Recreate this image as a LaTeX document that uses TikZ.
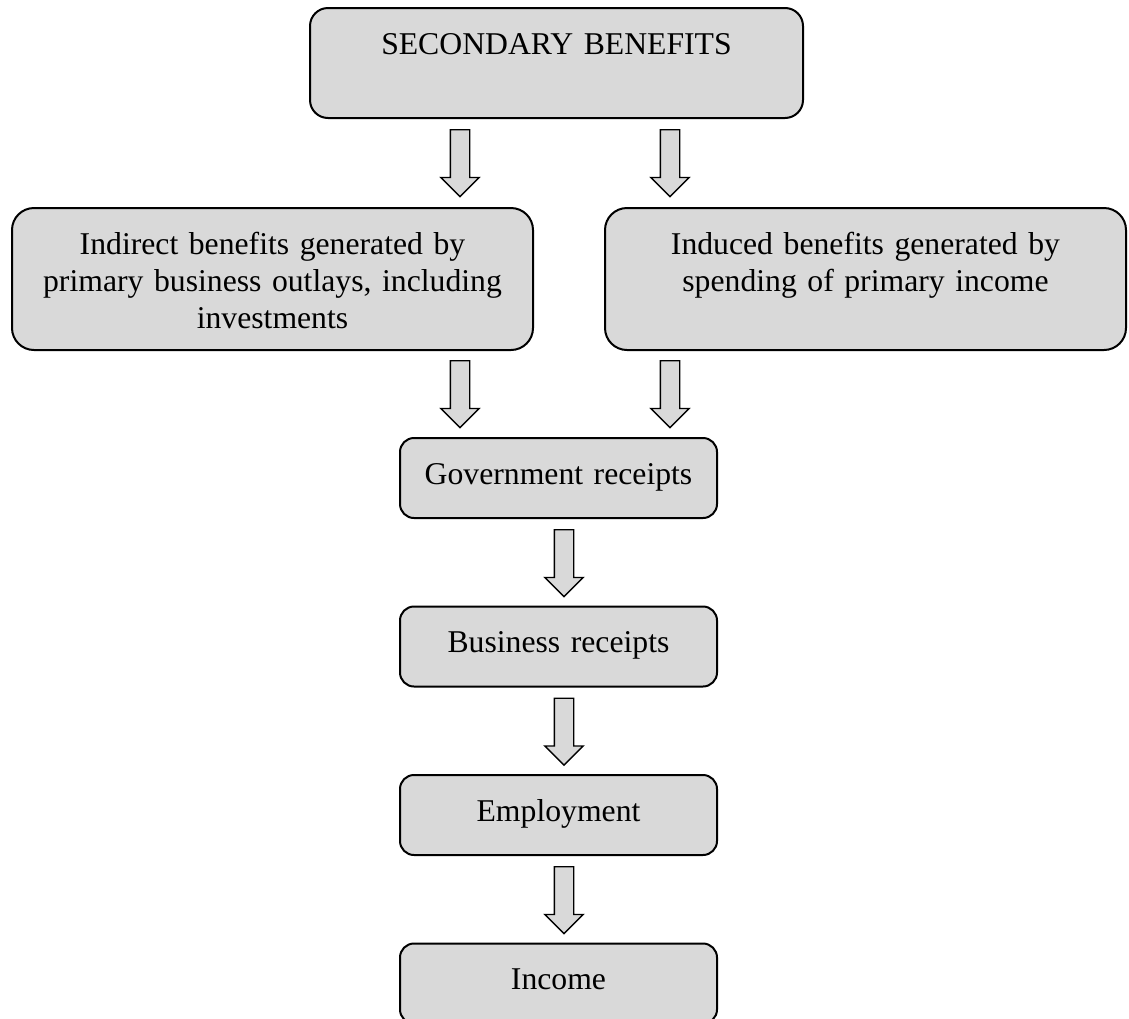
\documentclass[tikz,border=0pt]{standalone}
\usepackage{fontspec}
\setmainfont{Liberation Serif}
\usetikzlibrary{positioning,shapes.arrows,calc}

\begin{document}
\begin{tikzpicture}[
x=1pt, y=1pt,
node distance=86.5pt,
box/.style={draw, line width=2pt, fill=black!15, rounded corners=14pt, align=center,
  font=\fontsize{31.7}{37}\selectfont, inner xsep=6pt, inner ysep=0pt,
  text width=305pt, text height=46pt, text depth=34pt},
blockarr/.style={draw, line width=1.4pt, fill=black!15, single arrow,
  single arrow head extend=9.5pt, shape border rotate=270, inner sep=9pt,
  minimum width=37pt, minimum height=67pt, anchor=tail}
]
\useasboundingbox (0,0) rectangle (1129,-1018);

\node[box, anchor=north, text width=481pt, text depth=64pt, rounded corners=18pt] (sec) at (556.5,-7) {SECONDARY BENEFITS};
\node[box, anchor=north, text width=509pt, text depth=96pt, rounded corners=22pt] (indir) at (272.5,-207)
  {Indirect benefits generated by\\ primary business outlays, including\\ investments};
\node[box, anchor=north, text width=509pt, text depth=96pt, rounded corners=22pt] (induc) at (865.5,-207)
  {Induced benefits generated by\\ spending of primary income};

\node[box, anchor=north] (gov) at (558.5,-437) {Government receipts};
\node[box, below=of gov] (busi) {Business receipts};
\node[box, below=of busi] (empl) {Employment};
\node[box, below=of empl] (inc) {Income};

% block arrows
\node[blockarr] (a-left) at ($(sec.south)+(-96.5,-10)$) {};
\node[blockarr] (a-right) at ($(sec.south)+(113.5,-10)$) {};
\node[blockarr] (b-left) at ($(a-left.tip |- indir.south)+(0,-9)$) {};
\node[blockarr] (b-right) at ($(a-right.tip |- induc.south)+(0,-9)$) {};
\foreach \up in {gov,busi,empl}
  \node[blockarr] (a-\up) at ($(\up.south)+(5.5,-10)$) {};
\end{tikzpicture}
\end{document}
